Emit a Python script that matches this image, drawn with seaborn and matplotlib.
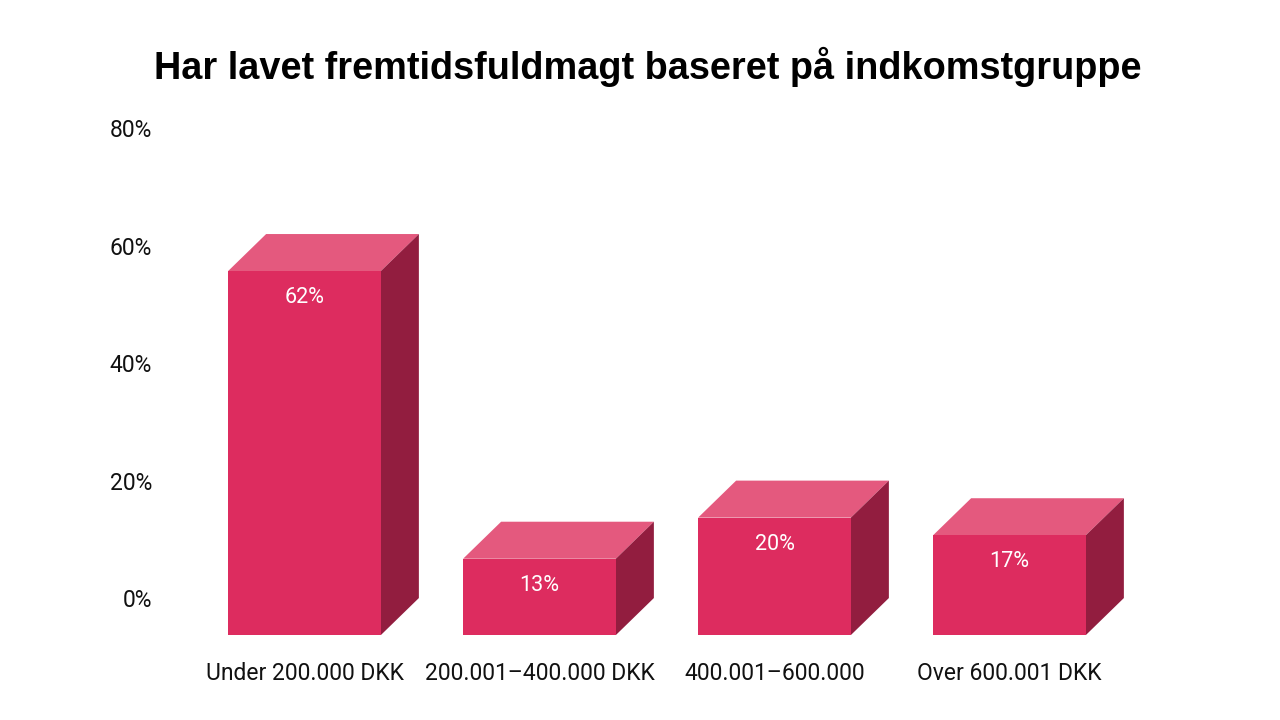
import matplotlib
matplotlib.use("Agg")
import matplotlib.pyplot as plt
import seaborn as sns
from matplotlib.patches import Polygon
from matplotlib.transforms import ScaledTranslation

# ---- data ----
categories = ["Under 200.000 DKK", "200.001–400.000 DKK", "400.001–600.000", "Over 600.001 DKK"]
values = [62, 13, 20, 17]
y_ticks = [0, 20, 40, 60, 80]
y_tick_labels = ["0%", "20%", "40%", "60%", "80%"]
value_labels = ["62%", "13%", "20%", "17%"]

FRONT = "#DD2C5F"
TOP = "#E4597E"
SIDE = "#921D3F"

sns.set_theme(style="white")
plt.rcParams["font.family"] = ["Roboto", "DejaVu Sans"]

W, H = 1280, 720
fig = plt.figure(figsize=(12.8, 7.2), dpi=100)
fig.patch.set_facecolor("white")

ax_left, ax_right = 187, 1127
ax_top, ax_bot = 99.0, 656.75
ax = fig.add_axes([ax_left / W, (H - ax_bot) / H, (ax_right - ax_left) / W, (ax_bot - ax_top) / H])
ax.set_facecolor("white")

sns.barplot(x=categories, y=values, width=0.65, color=FRONT, saturation=1, ax=ax, zorder=3)
ax.set_xlim(-0.5, 3.5)
ax.set_ylim(-10, 85)

# 3D depth in pixels
DX_PX, DY_PX = 38, 37
px_per_x = (ax_right - ax_left) / 4.0
px_per_y = (ax_bot - ax_top) / 95.0
dx = DX_PX / px_per_x
dy = DY_PX / px_per_y

shift = ScaledTranslation(0, -DY_PX / 100.0, fig.dpi_scale_trans)
for patch, v, lab in zip(ax.patches, values, value_labels):
    patch.set_transform(ax.transData + shift)
    patch.set_edgecolor("none")
    x0 = patch.get_x()
    x1 = x0 + patch.get_width()
    top = Polygon([(x0, v - dy), (x1, v - dy), (x1 + dx, v), (x0 + dx, v)],
                  closed=True, facecolor=TOP, edgecolor="none", zorder=2)
    side = Polygon([(x1, v - dy), (x1 + dx, v), (x1 + dx, 0), (x1, -dy)],
                   closed=True, facecolor=SIDE, edgecolor="none", zorder=2)
    ax.add_patch(top)
    ax.add_patch(side)
    ax.annotate(lab, xy=((x0 + x1) / 2, v - dy), xytext=(0, -19), textcoords="offset points",
                ha="center", va="center", color="white", fontsize=15.5,
                family=["Roboto", "DejaVu Sans"], zorder=5)

ax.set_yticks(y_ticks)
ax.set_yticklabels(y_tick_labels)
ax.tick_params(axis="y", length=0, pad=25, labelsize=16.5, labelcolor="#111111")
ax.tick_params(axis="x", length=0, pad=4, labelsize=16.5, labelcolor="#111111")
ax.set_xlabel("")
ax.set_ylabel("")
for s in ax.spines.values():
    s.set_visible(False)
ax.grid(False)

fig.text(647.5 / W, (H - 79) / H, "Har lavet fremtidsfuldmagt baseret på indkomstgruppe",
         ha="center", va="baseline", fontsize=27.3, fontweight="bold",
         family=["Liberation Sans", "DejaVu Sans"], color="black")

fig.savefig("out.png", dpi=100, facecolor="white")
